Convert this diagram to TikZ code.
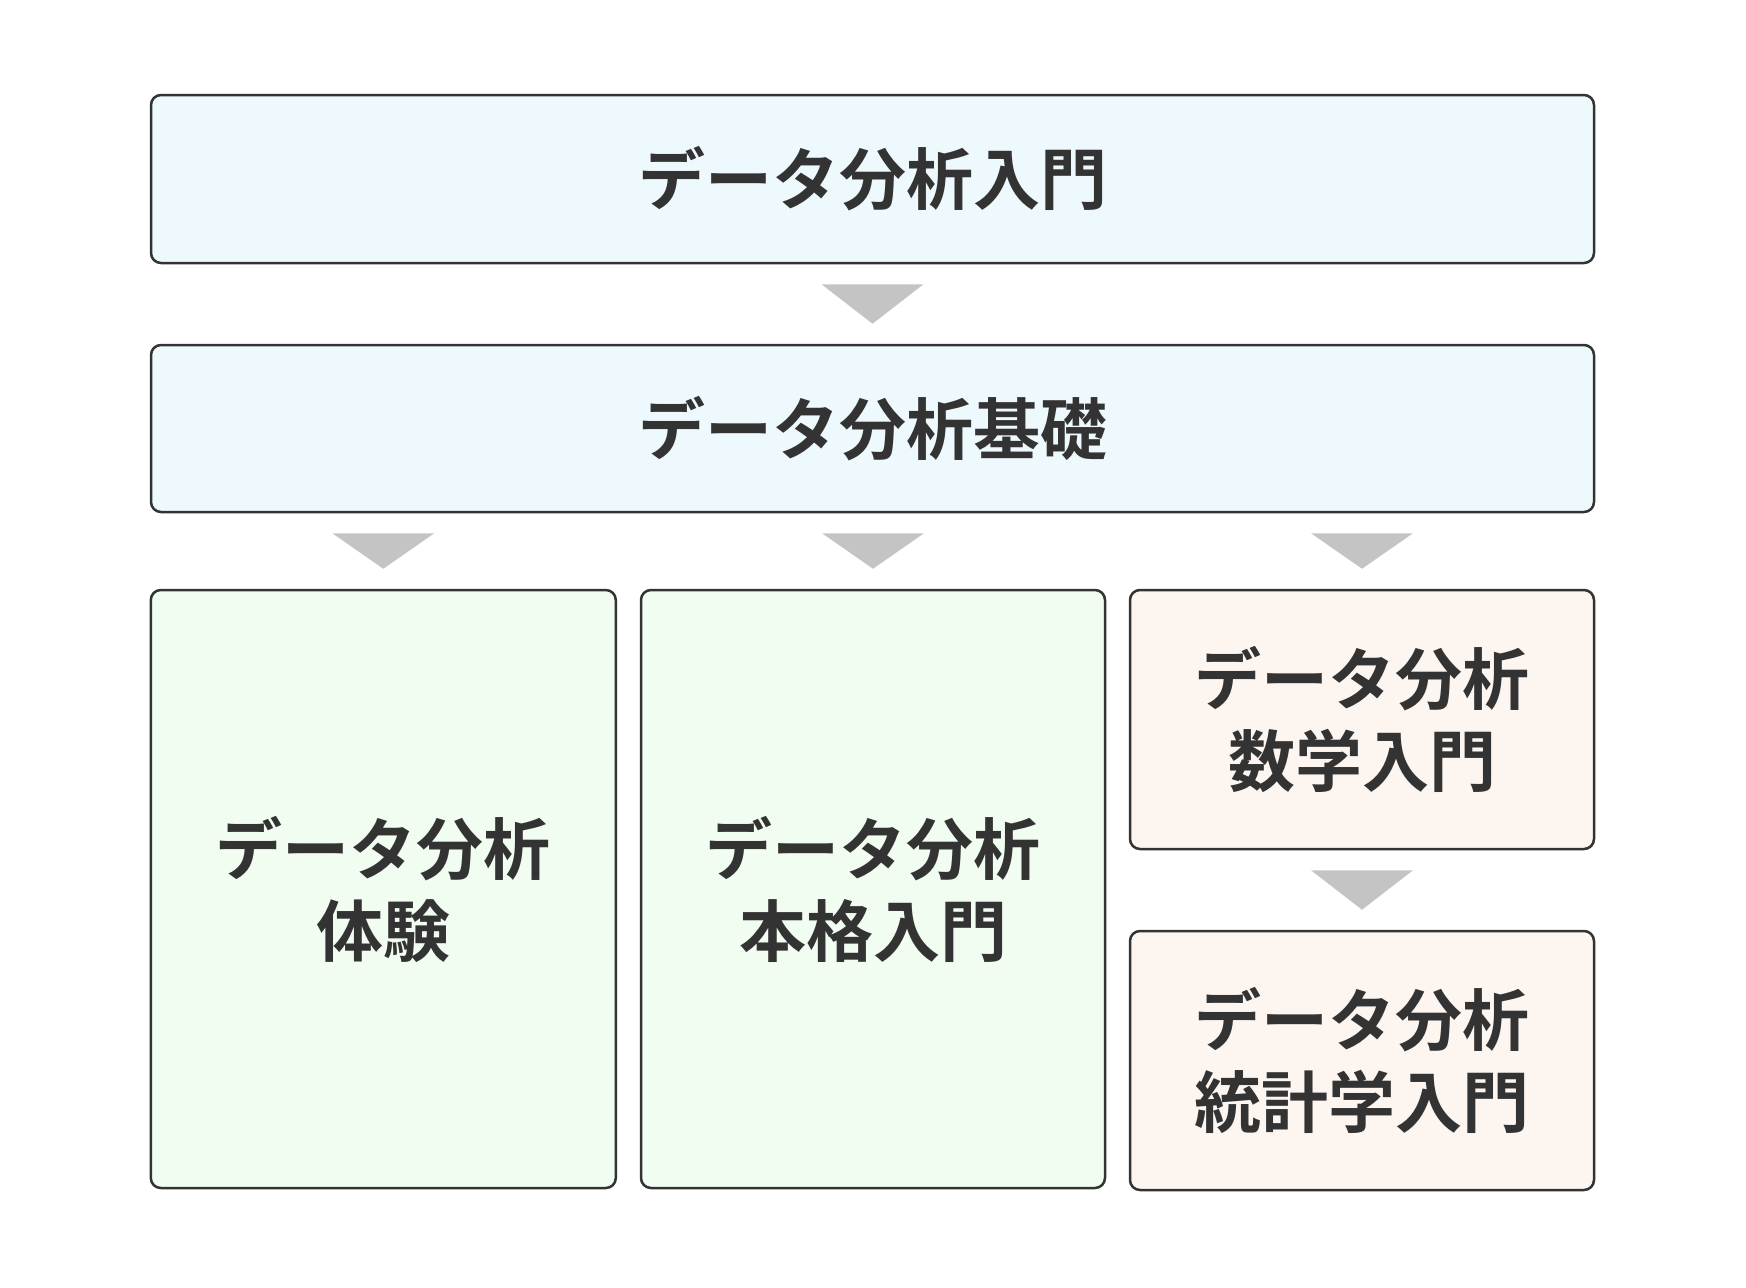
\documentclass[tikz,border=0pt]{standalone}
\usepackage{fontspec}
\newfontfamily\cjk{Noto Sans CJK JP}[BoldFont={Noto Sans CJK JP Bold}]
\usepackage{tikz}
\usetikzlibrary{calc}
\usepackage{xcolor}
\definecolor{boxline}{HTML}{333333}
\definecolor{bluefill}{HTML}{EEF9FE}
\definecolor{greenfill}{HTML}{F0FDF0}
\definecolor{peachfill}{HTML}{FDF5F0}
\definecolor{tipgray}{HTML}{C4C4C4}
\newcommand{\tipw}{51}
\newcommand{\tipgap}{20}

\begin{document}
\begin{tikzpicture}[x=1pt,y=-1pt]
\tikzstyle{every node}=[draw=boxline,line width=2.5pt,rounded corners=10pt,text=boxline,
  font=\cjk\bfseries\fontsize{67}{82}\selectfont,align=center,inner sep=0pt]
\tikzstyle{flowtip}=[fill=tipgray,draw=none]
\useasboundingbox (0,0) rectangle (1746,1288);
\node[fill=bluefill,minimum width=1443pt,minimum height=168pt] (a) at (872.5,179) {データ分析入門};
\node[fill=bluefill,minimum width=1443pt,minimum height=167pt] (b) at (872.5,428.5) {データ分析基礎};
\node[fill=greenfill,minimum width=465pt,minimum height=598pt] (c) at (383.3,889) {データ分析\\体験};
\node[fill=greenfill,minimum width=464pt,minimum height=598pt] (d) at (873,889) {データ分析\\本格入門};
\node[fill=peachfill,minimum width=464pt,minimum height=259pt] (e) at (1362,719.5) {データ分析\\数学入門};
\node[fill=peachfill,minimum width=464pt,minimum height=259pt] (f) at (1362,1060.5) {データ分析\\統計学入門};
\foreach \from/\to in {a/b,b/c,b/d,b/e,e/f}
  \fill[flowtip] ($(\to.north|-\from.south)+(-\tipw,\tipgap)$) -- ($(\to.north|-\from.south)+(\tipw,\tipgap)$)
    -- ($(\to.north)+(0,-\tipgap)$) -- cycle;
\end{tikzpicture}
\end{document}
